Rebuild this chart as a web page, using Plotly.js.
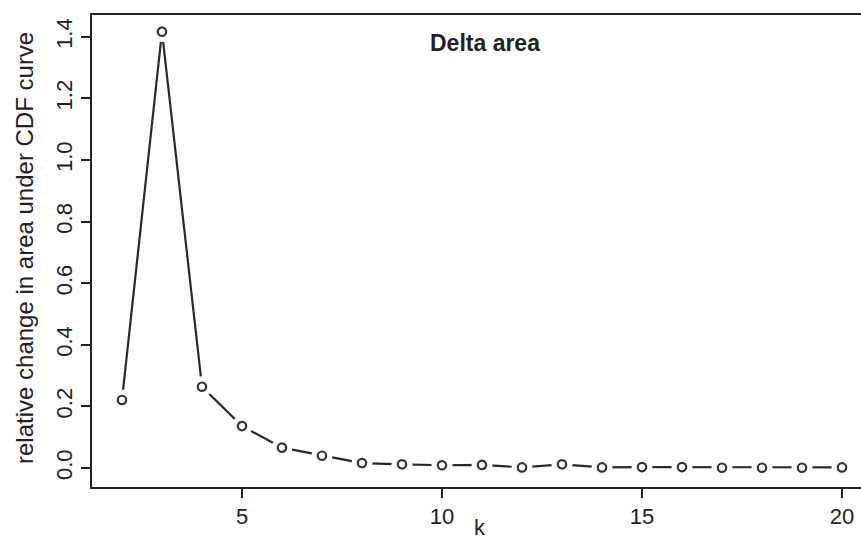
<!DOCTYPE html>
<html>
<head>
<meta charset="utf-8">
<script src="https://cdn.plot.ly/plotly-3.0.1.min.js"></script>
<style>html,body{margin:0;padding:0;background:#fff;overflow:hidden}#chart{width:861px;height:542px}</style>
</head>
<body>
<div id="chart"></div>
<script>
const kValues = [2,3,4,5,6,7,8,9,10,11,12,13,14,15,16,17,18,19,20];
const deltaArea = [0.221,1.417,0.264,0.136,0.066,0.040,0.016,0.012,0.009,0.010,0.002,0.012,0.002,0.003,0.003,0.001,0.001,0.001,0.002];
const xTicks = [5,10,15,20];
const yTicks = [0,0.2,0.4,0.6,0.8,1.0,1.2,1.4];
const titleText = "Delta area";
const xTitle = "k";
const yTitle = "relative change in area under CDF curve";

const ink = '#222';
const xRange = [1.25,20.475];
const yRange = [-0.0617,1.471];
const traces = [
  {type:'scatter', x:kValues, y:deltaArea, mode:'lines', line:{color:'#2a2a2a', width:2.2}, hoverinfo:'skip'}
];
// R type="b" look: white gap around each point, then open circle, anchored at data values
const gapR = 10.5, ringR = 4.2;
const maskShapes = kValues.map((k,i)=>({type:'circle', xref:'x', yref:'y', xsizemode:'pixel', ysizemode:'pixel',
  xanchor:k, yanchor:deltaArea[i], x0:-gapR, x1:gapR, y0:-gapR, y1:gapR, fillcolor:'#ffffff', line:{width:0}, layer:'above'}));
const ringShapes = kValues.map((k,i)=>({type:'circle', xref:'x', yref:'y', xsizemode:'pixel', ysizemode:'pixel',
  xanchor:k, yanchor:deltaArea[i], x0:-ringR, x1:ringR, y0:-ringR, y1:ringR, fillcolor:'rgba(0,0,0,0)', line:{width:2.2, color:'#333'}, layer:'above'}));
const layout = {
  width:861, height:542,
  margin:{l:92, r:0, t:15, b:55},
  paper_bgcolor:'#fff', plot_bgcolor:'#fff',
  showlegend:false,
  font:{family:'Liberation Sans, Arial, sans-serif', color:ink, size:22},
  xaxis:{range:xRange, tickvals:xTicks, ticktext:xTicks.map(String), ticks:'outside', ticklen:9, tickwidth:2, tickcolor:ink,
    showline:true, linewidth:2, linecolor:ink, mirror:true, showgrid:false, zeroline:false, tickfont:{size:22, color:ink}},
  yaxis:{range:yRange, tickvals:yTicks, ticktext:yTicks.map(v=>v.toFixed(1)), ticks:'outside', ticklen:9, tickwidth:2, tickcolor:ink,
    showline:true, linewidth:2, linecolor:ink, mirror:false, showgrid:false, zeroline:false, tickangle:-90, tickfont:{size:22, color:ink}},
  shapes: maskShapes.concat(ringShapes),
  annotations:[
    {text:'<b>'+titleText+'</b>', xref:'paper', yref:'paper', x:(485-92)/769, y:1-(43-15)/472, xanchor:'center', yanchor:'middle', showarrow:false, font:{size:23, color:ink}},
    {text:xTitle, xref:'paper', yref:'paper', x:(480-92)/769, y:-(542-487)/472, xanchor:'center', yanchor:'bottom', showarrow:false, font:{size:22, color:ink}},
    {text:yTitle, xref:'paper', yref:'paper', x:-(92-24)/769, y:1-(248-15)/472, xanchor:'center', yanchor:'middle', textangle:-90, showarrow:false, font:{size:24, color:ink}}
  ]
};
Plotly.newPlot('chart', traces, layout, {displayModeBar:false, staticPlot:true});
</script>
</body>
</html>
